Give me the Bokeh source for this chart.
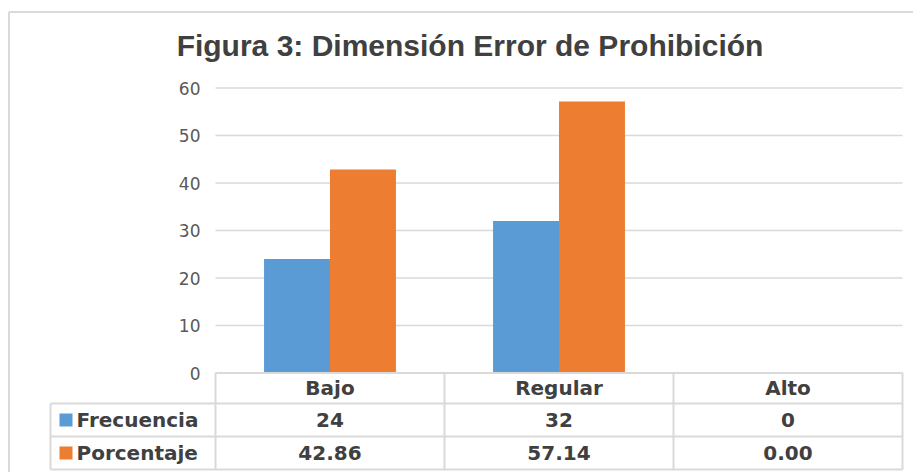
from bokeh.plotting import figure
from bokeh.models import Range1d, FixedTicker, ColumnDataSource
from bokeh.core.properties import value
from bokeh.embed import file_html
from bokeh.resources import INLINE
from bokeh.transform import dodge

# ---------------- data ----------------
categories = ["Bajo", "Regular", "Alto"]
series = ["Frecuencia", "Porcentaje"]
frecuencia = [24, 32, 0]
porcentaje = [42.86, 57.14, 0.00]
y_ticks = [0, 10, 20, 30, 40, 50, 60]
title_text = "Figura 3: Dimensión Error de Prohibición"

# ---------------- style / layout constants ----------------
colors = ["#5b9bd5", "#ed7d31"]
grid_color = "#d9d9d9"
text_color = "#404040"
tick_color = "#595959"
table_font = value("DejaVu Sans")

W, H = 913, 472
X0_PX, CAT_PX = 215.0, 229.0      # page x of first category column, column width
Y0_PX, Y_PX = 372.5, 4.75         # page y of value 0, pixels per unit


def dx(px):      # page x -> data x
    return (px - X0_PX) / CAT_PX


def dy(py):      # page y -> data y
    return (Y0_PX - py) / Y_PX


n = len(categories)
cx = [i + 0.5 for i in range(n)]

p = figure(width=W, height=H, output_backend="svg", toolbar_location=None,
           x_range=Range1d(dx(0), dx(W)), y_range=Range1d(dy(H), dy(0)),
           min_border=0, min_border_left=0, min_border_right=0,
           min_border_top=0, min_border_bottom=0, x_axis_location=None)
p.outline_line_color = None
p.xgrid.visible = False
p.ygrid.visible = False

# y axis (labels ending at page x ~200)
ax = p.yaxis[0]
ax.ticker = FixedTicker(ticks=y_ticks)
ax.axis_line_color = None
ax.major_tick_line_color = None
ax.minor_tick_line_color = None
ax.major_tick_out = 0
ax.major_tick_in = 0
ax.major_label_standoff = -200
ax.major_label_text_font = "DejaVu Sans"
ax.major_label_text_font_size = "17px"
ax.major_label_text_color = tick_color

# outer chart border (top and left visible)
p.segment(x0=[dx(8.5), dx(8.5)], y0=[dy(11.5), dy(11.5)], x1=[dx(W + 5), dx(8.5)],
          y1=[dy(11.5), dy(H + 5)], line_color=grid_color, line_width=2)

# title
p.text(x=[dx(469.5)], y=[dy(45)], text=[title_text], text_font=value("Liberation Sans"),
       text_font_style="bold", text_font_size="30px", text_align="center",
       text_baseline="middle", text_color=text_color)

# gridlines at the ticks, spanning the category area
p.segment(x0=[0] * len(y_ticks), y0=y_ticks, x1=[n] * len(y_ticks), y1=y_ticks,
          line_color=grid_color, line_width=1.5)

# bars
src = ColumnDataSource(dict(x=cx, cat=categories, frec=frecuencia, porc=porcentaje))
p.vbar(x=dodge("x", -0.144, range=p.x_range), top="frec", width=0.288, bottom=0,
       source=src, fill_color=colors[0], line_color=None)
p.vbar(x=dodge("x", 0.144, range=p.x_range), top="porc", width=0.288, bottom=0,
       source=src, fill_color=colors[1], line_color=None)

# data table
r_top, r1, r2, r3 = dy(372.5), dy(403), dy(436), dy(469)
leg_left = dx(50)
bounds = list(range(n + 1))
# vertical lines of category columns
p.segment(x0=bounds, y0=[r_top] * len(bounds), x1=bounds, y1=[r3] * len(bounds),
          line_color=grid_color, line_width=2)
# legend column left line
p.segment(x0=[leg_left], y0=[r1], x1=[leg_left], y1=[r3], line_color=grid_color, line_width=2)
# horizontal lines
p.segment(x0=[0, leg_left, leg_left, leg_left], y0=[r_top, r1, r2, r3],
          x1=[n, n, n, n], y1=[r_top, r1, r2, r3], line_color=grid_color, line_width=2)

# header (category names)
p.text(x="x", y=(r_top + r1) / 2, text="cat", source=src, text_font=table_font,
       text_font_style="bold", text_font_size="20px", text_align="center",
       text_baseline="middle", text_color=text_color)

row_y = [(r1 + r2) / 2, (r2 + r3) / 2]
p.scatter(x=[dx(65.5)] * 2, y=row_y, marker="square", size=13,
          fill_color=colors, line_color=None)
p.text(x=[dx(76)] * 2, y=row_y, text=series, text_font=table_font,
       text_font_style="bold", text_font_size="20px", text_align="left",
       text_baseline="middle", text_color=text_color)

vals = [str(v) for v in frecuencia] + [f"{v:.2f}" for v in porcentaje]
p.text(x=cx + cx, y=[row_y[0]] * n + [row_y[1]] * n, text=vals, text_font=table_font,
       text_font_style="bold", text_font_size="20px", text_align="center",
       text_baseline="middle", text_color=text_color)

open("out.html", "w").write(file_html(p, INLINE))
